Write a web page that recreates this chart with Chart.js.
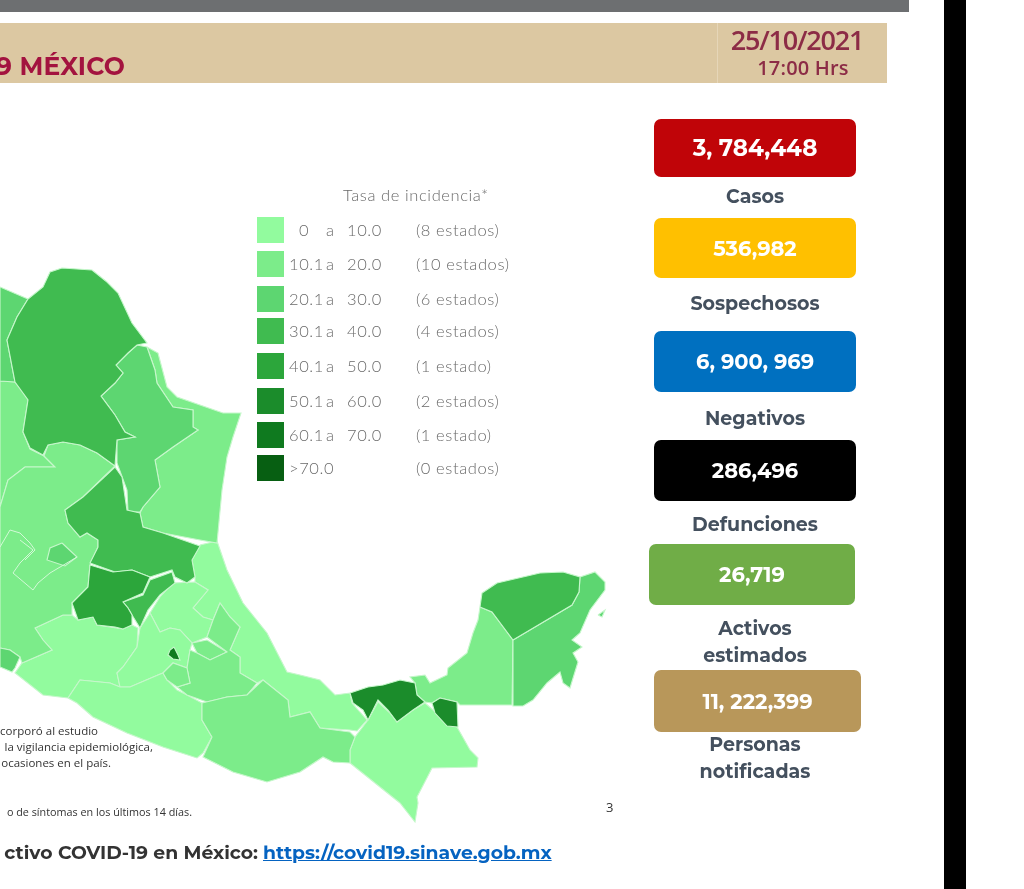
<!DOCTYPE html>
<html lang="es">
<head>
<meta charset="utf-8">
<title>COVID-19 México</title>
<script src="https://cdn.jsdelivr.net/npm/chart.js@4"></script>
<style>
  html, body { margin: 0; padding: 0; background: #fff; }
  #page { position: relative; width: 1024px; height: 889px; overflow: hidden; font-family: "Open Sans", sans-serif; }
  #map { position: absolute; left: 0; top: 0; filter: blur(0.5px); }
  #page div, #page a { position: absolute; white-space: nowrap; }
  .band { background: #dcc8a2; }
  .kpi { color: #fff; font: 700 21px Montserrat, "Open Sans", sans-serif; border-radius: 7px; display: flex; align-items: center; justify-content: center; filter: blur(0.4px); }
  .kpi-label { color: #44505e; font: 700 19px Montserrat, "Open Sans", sans-serif; text-align: center; transform: translate(-50%, -50%); filter: blur(0.3px); }
  .leg { color: #6a6a6a; font-size: 16.5px; font-weight: 300; transform: translateY(-50%); filter: blur(0.6px); font-family: Lato, sans-serif; letter-spacing: 0.6px; }
  .note { color: #333; font-size: 11.5px; filter: blur(0.7px); }
</style>
</head>
<body>
<div id="page">
  <canvas id="map" width="1024" height="889"></canvas>
  <div id="overlay"></div>
</div>
<script>
// incidence bins and legend
const binLabels = ["0", "10.1", "20.1", "30.1", "40.1", "50.1", "60.1", ">70.0"];
const binUppers = ["10.0", "20.0", "30.0", "40.0", "50.0", "60.0", "70.0", ""];
const binCounts = ["(8 estados)", "(10 estados)", "(6 estados)", "(4 estados)", "(1 estado)", "(2 estados)", "(1 estado)", "(0 estados)"];
const binColors = ["#92fb9e", "#7cec8a", "#5dd671", "#40bb50", "#2ca63b", "#1b8c2b", "#0f7a1f", "#075f12"];

// KPI boxes
const kpiValues = ["3, 784,448", "536,982", "6, 900, 969", "286,496", "26,719", "11, 222,399"];
const kpiLabels = [["Casos"], ["Sospechosos"], ["Negativos"], ["Defunciones"], ["Activos", "estimados"], ["Personas", "notificadas"]];

// state outlines
const chihuahua = [[0,287],[28,299],[17,317],[7,340],[15,382],[0,381]];
const durango = [[0,381],[15,382],[28,397],[28,400],[23,432],[30,449],[44,456],[55,467],[25,467],[8,480],[0,507]];
const jalisco = [[0,507],[8,480],[25,467],[55,467],[44,456],[48,445],[63,442],[80,445],[97,453],[115,466],[83,497],[65,510],[68,523],[80,537],[87,533],[98,540],[98,547],[90,565],[88,587],[72,603],[72,615],[63,615],[35,628],[43,640],[52,650],[22,663],[20,657],[10,650],[0,648]];
const colima = [[0,648],[10,650],[20,657],[15,668],[12,672],[0,667]];
const aguascalientes = [[62,543],[77,557],[65,566],[47,560],[50,548]];
const coahuila = [[28,299],[43,287],[50,272],[62,268],[92,270],[107,282],[118,293],[132,323],[147,343],[137,345],[128,353],[116,365],[123,373],[115,383],[101,396],[115,415],[125,432],[135,437],[117,440],[115,466],[97,453],[80,445],[63,442],[48,445],[43,455],[30,448],[23,432],[28,400],[15,382],[7,340],[17,317]];
const nuevoLeon = [[137,345],[147,347],[155,370],[157,383],[173,407],[193,410],[193,427],[198,430],[173,447],[155,460],[160,487],[143,507],[140,512],[128,512],[127,490],[117,463],[117,440],[135,437],[125,432],[115,415],[101,396],[115,383],[123,373],[116,365],[128,353]];
const tamaulipas = [[147,347],[158,353],[167,387],[177,397],[200,405],[223,413],[241,413],[233,437],[227,457],[222,490],[217,543],[200,540],[163,533],[143,527],[140,513],[143,507],[160,487],[155,460],[173,447],[198,430],[193,427],[193,410],[173,407],[157,383],[155,370]];
const sanLuis = [[115,467],[122,477],[127,510],[140,513],[143,527],[163,533],[200,546],[192,560],[195,577],[187,583],[175,577],[172,570],[150,577],[132,570],[115,572],[90,563],[98,547],[98,540],[87,533],[80,537],[68,523],[65,510],[83,497]];
const veracruz = [[200,545],[217,541],[227,570],[243,603],[267,633],[287,672],[300,675],[320,680],[335,695],[350,693],[352,703],[367,720],[357,731],[350,730],[320,728],[310,712],[290,717],[288,700],[263,680],[257,683],[240,673],[240,657],[230,650],[240,627],[230,617],[220,603],[213,620],[203,617],[193,608],[208,590],[195,582],[195,577],[192,560]];
const hidalgo = [[173,583],[195,582],[208,590],[193,608],[203,617],[213,620],[207,637],[192,643],[180,630],[170,628],[160,632],[150,613],[160,597]];
const queretaro = [[123,602],[143,595],[150,580],[172,572],[175,583],[160,595],[148,610],[140,628],[132,615],[128,608]];
const guanajuato = [[90,565],[113,572],[132,570],[150,577],[143,593],[123,602],[128,608],[132,615],[132,625],[123,629],[115,627],[97,625],[93,617],[78,620],[72,603],[88,587]];
const michoacan = [[35,628],[63,615],[72,615],[78,620],[93,617],[97,625],[123,629],[132,625],[138,628],[137,647],[123,667],[117,673],[120,687],[110,683],[80,680],[68,698],[43,695],[15,673],[22,663],[52,650],[43,640]];
const edomex = [[140,628],[150,613],[160,632],[170,628],[180,630],[192,643],[190,650],[187,668],[173,663],[163,673],[158,675],[130,687],[120,687],[117,673],[123,667],[137,647]];
const tlaxcala = [[192,643],[207,640],[227,652],[210,660],[197,653]];
const puebla = [[220,603],[230,617],[240,627],[230,650],[240,657],[240,673],[257,683],[247,695],[227,697],[207,702],[187,695],[177,687],[190,683],[187,668],[190,650],[197,653],[210,660],[227,652],[207,637],[213,620]];
const morelos = [[163,673],[173,663],[187,668],[190,683],[177,687],[167,680]];
const cdmx = [[174,647],[178,655],[180,660],[173,659],[168,655],[170,650]];
const guerrero = [[68,698],[80,680],[110,683],[120,687],[130,687],[158,675],[163,673],[167,680],[177,690],[187,695],[202,703],[202,720],[212,737],[203,753],[197,758],[163,747],[127,733],[93,717],[77,703]];
const oaxaca = [[202,703],[227,697],[247,695],[263,680],[288,700],[290,717],[310,712],[320,728],[350,732],[355,737],[350,750],[350,763],[333,762],[323,757],[300,772],[267,782],[233,772],[203,757],[212,737],[202,720]];
const chiapas = [[378,702],[390,713],[397,722],[413,710],[425,703],[433,710],[445,723],[457,727],[470,750],[478,758],[477,767],[432,768],[417,797],[418,803],[415,822],[400,803],[380,787],[350,763],[350,750],[355,737],[368,720]];
const tabasco = [[350,693],[368,687],[383,685],[400,680],[415,683],[417,695],[425,702],[413,710],[397,722],[388,710],[378,700],[368,720],[363,710],[353,703]];
const tabascoEast = [[432,703],[440,698],[457,702],[458,727],[447,726],[435,713]];
const campeche = [[480,607],[492,612],[513,640],[512,705],[460,705],[457,702],[440,698],[432,703],[425,702],[417,695],[415,683],[410,677],[425,675],[430,683],[447,675],[448,668],[467,653],[473,633],[478,620]];
const yucatan = [[480,607],[482,593],[497,583],[540,573],[563,572],[580,577],[579,592],[572,605],[513,640],[492,612]];
const quintanaRoo = [[580,577],[595,572],[605,582],[605,590],[590,610],[580,633],[572,640],[582,647],[573,653],[578,662],[570,688],[563,683],[560,672],[547,683],[533,700],[523,706],[513,706],[513,640],[572,605],[579,592]];
const cozumel = [[598,615],[605,610],[602,617]];

// inner boundaries on the west side, drawn without fill
const westLineA = [[13,573],[33,590],[38,583],[50,573],[77,557]];
const westLineB = [[13,573],[20,563],[33,550],[20,540]];
const westLineC = [[0,547],[10,530],[20,533],[30,543],[35,550],[25,560]];

// polygon + incidence bin, light ones first so dark borders stay on top
const stateBins = [
  [veracruz, 0], [hidalgo, 0], [michoacan, 0], [edomex, 0], [guerrero, 0], [chiapas, 0],
  [durango, 1], [jalisco, 1], [tamaulipas, 1], [tlaxcala, 1], [puebla, 1], [morelos, 1], [oaxaca, 1], [campeche, 1],
  [chihuahua, 2], [colima, 2], [aguascalientes, 2], [nuevoLeon, 2], [quintanaRoo, 2], [cozumel, 2],
  [coahuila, 3], [sanLuis, 3], [queretaro, 3], [yucatan, 3],
  [guanajuato, 4],
  [tabasco, 5], [tabascoEast, 5],
  [cdmx, 6]
];
const borderLines = [westLineA, westLineB, westLineC];

function toPoints(outline) {
  const pts = outline.map(p => ({ x: p[0], y: p[1] }));
  pts.push(pts[0]);
  return pts;
}

const datasets = stateBins.map(([outline, bin]) => ({
  data: toPoints(outline),
  showLine: true,
  fill: "shape",
  backgroundColor: binColors[bin],
  borderColor: "#c6f7cb",
  borderWidth: 1.1,
  pointRadius: 0
}));

borderLines.forEach(line => {
  datasets.push({
    data: line.map(p => ({ x: p[0], y: p[1] })),
    showLine: true,
    fill: false,
    borderColor: "#d2f9d6",
    borderWidth: 1,
    pointRadius: 0
  });
});

// chart.js paints the first dataset last, so flip the list
new Chart(document.getElementById("map"), {
  type: "scatter",
  data: { datasets: datasets.reverse() },
  options: {
    responsive: false,
    animation: false,
    layout: { padding: 0 },
    plugins: { legend: { display: false }, tooltip: { enabled: false } },
    scales: {
      x: { type: "linear", min: 0, max: 1024, display: false },
      y: { type: "linear", min: 0, max: 889, reverse: true, display: false }
    }
  }
});

// everything around the map is plain html
const overlay = document.getElementById("overlay");

function addDiv(css, text, cls) {
  const el = document.createElement("div");
  el.style.cssText = css;
  if (cls) el.className = cls;
  if (text) el.textContent = text;
  overlay.appendChild(el);
  return el;
}

addDiv("left:0;top:0;width:909px;height:12px;background:#6d6f71");
addDiv("left:0;top:23px;width:887px;height:60px", "", "band");
addDiv("left:717px;top:23px;width:1px;height:60px;background:#e6d6b8");
addDiv("left:944px;top:0;width:22px;height:889px;background:#000");

addDiv("left:-4px;top:51px;color:#a3133f;font:700 25px Montserrat,'Open Sans',sans-serif;letter-spacing:0.2px;filter:blur(0.3px)", "9 MÉXICO");
addDiv("left:717px;top:23px;width:160px;text-align:center;color:#8c2c46;font:600 27px/34px 'Open Sans',sans-serif;letter-spacing:-1.2px", "25/10/2021");
addDiv("left:723px;top:56px;width:160px;text-align:center;color:#8c2c46;font:600 20px/24px 'Open Sans',sans-serif;letter-spacing:0.2px", "17:00 Hrs");

const kpiBoxes = [
  [654, 119, 202, 58, "#c00408"],
  [654, 218, 202, 60, "#ffc000"],
  [654, 331, 202, 61, "#0070c0"],
  [654, 440, 202, 61, "#000000"],
  [649, 544, 206, 61, "#70ad47"],
  [654, 670, 207, 62, "#b8975a"]
];
const labelRows = [[196], [303], [418], [524], [628, 655], [744, 771]];

kpiBoxes.forEach(([x, y, w, h, color], i) => {
  const box = addDiv(`left:${x}px;top:${y}px;width:${w}px;height:${h}px;background:${color}`, kpiValues[i], "kpi");
  if (i === 0) box.style.fontSize = "23px";
  kpiLabels[i].forEach((line, j) => {
    addDiv(`left:755px;top:${labelRows[i][j]}px`, line, "kpi-label");
  });
});

addDiv("left:343px;top:195px", "Tasa de incidencia*", "leg");
const swatchTops = [217, 251, 286, 318, 353, 388, 422, 455];
binLabels.forEach((label, i) => {
  const top = swatchTops[i];
  const mid = top + 13;
  addDiv(`left:257px;top:${top}px;width:27px;height:26px;background:${binColors[i]}`);
  addDiv(`left:${i === 0 ? 299 : 289}px;top:${mid}px`, label, "leg");
  if (i < 7) {
    addDiv(`left:326px;top:${mid}px`, "a", "leg");
    addDiv(`left:347px;top:${mid}px`, binUppers[i], "leg");
  }
  addDiv(`left:416px;top:${mid}px`, binCounts[i], "leg");
});

// the slide is cropped on the left, so these notes are anchored by their right end
function addNote(rightEnd, y, text) {
  return addDiv(`left:${rightEnd}px;top:${y}px;transform:translate(-100%,-50%)`, text, "note");
}
addNote(98, 730, "ncorporó al estudio");
addNote(153, 746, "la vigilancia epidemiológica,");
addNote(111, 762, "n ocasiones en el país.");
addNote(192, 811, "o de síntomas en los últimos 14 días.").style.fontSize = "10.8px";
addDiv("left:606px;top:798px;font-size:13px", "3", "note");

const footer = addNote(258, 852, "ctivo COVID-19 en México:");
footer.style.color = "#333";
footer.style.font = "700 18.8px Montserrat,'Open Sans',sans-serif";
footer.style.filter = "blur(0.3px)";
const link = document.createElement("a");
link.href = "https://covid19.sinave.gob.mx";
link.textContent = "https://covid19.sinave.gob.mx";
link.style.cssText = "left:263px;top:842px;color:#0563c1;font:700 18.8px/21px Montserrat,'Open Sans',sans-serif;text-decoration:underline;filter:blur(0.3px)";
overlay.appendChild(link);
</script>
</body>
</html>
